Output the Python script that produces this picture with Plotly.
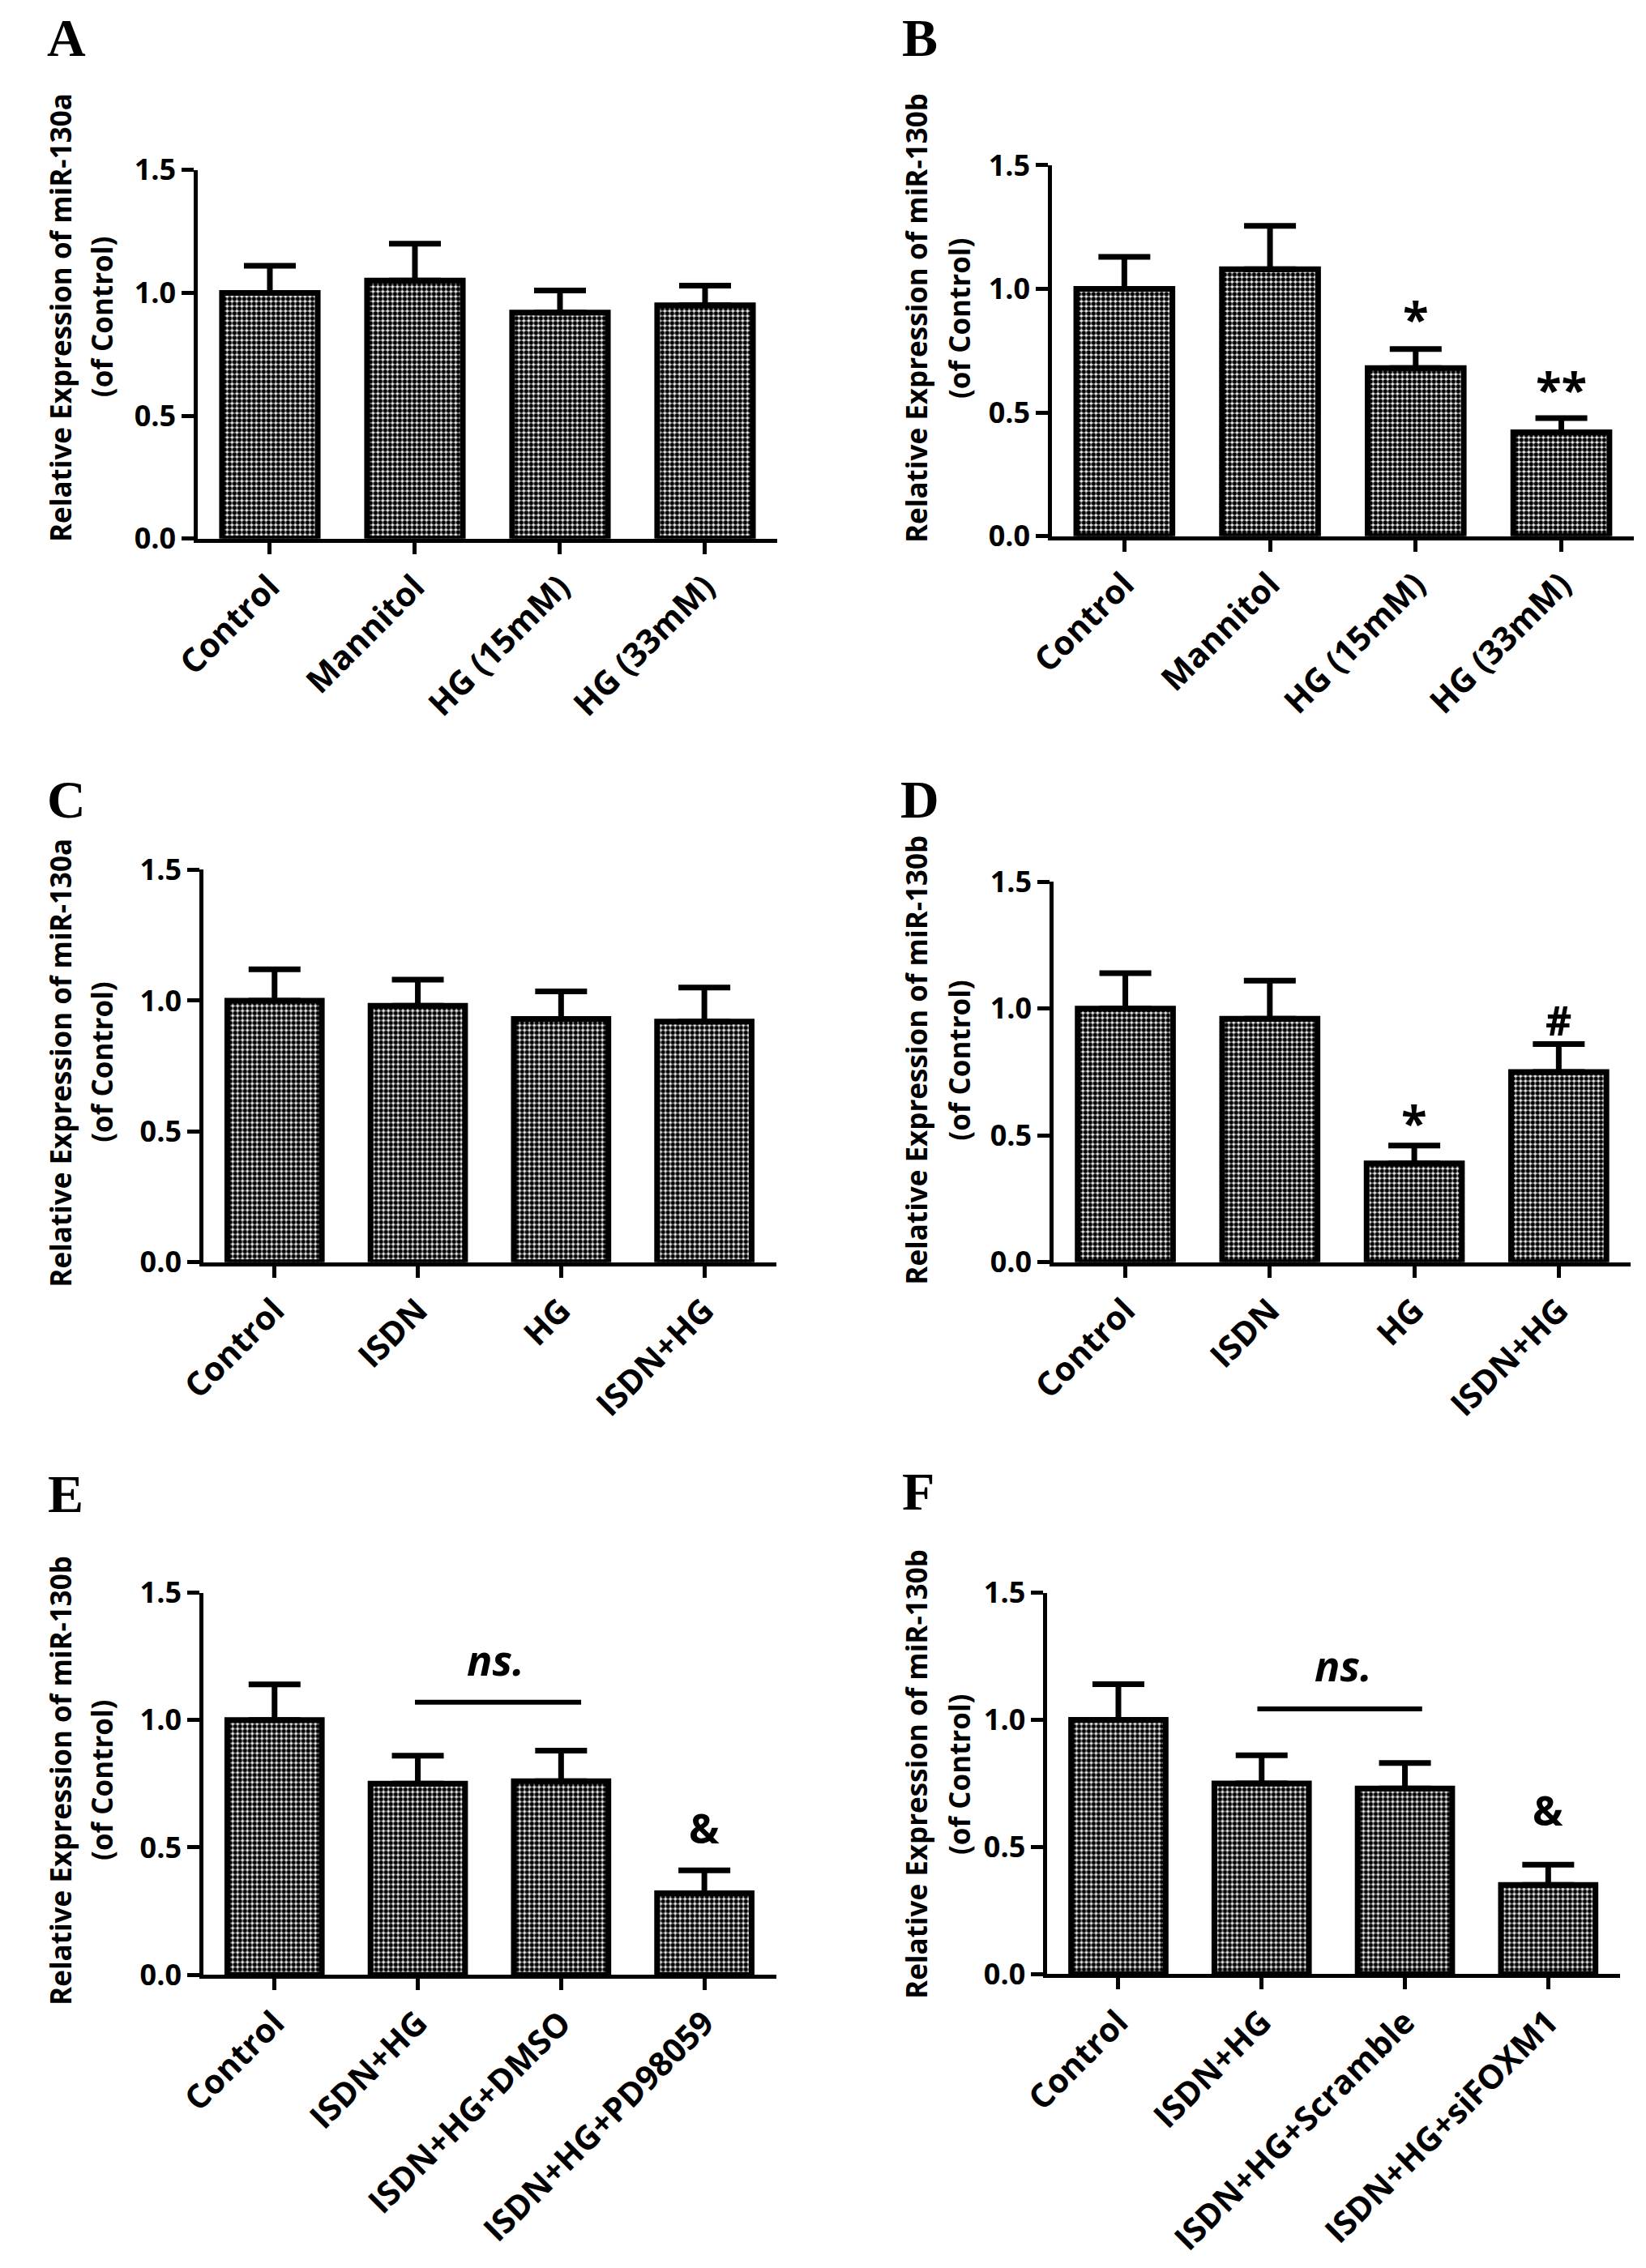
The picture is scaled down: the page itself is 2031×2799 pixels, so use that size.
import plotly.graph_objects as go

W, H = 2031, 2799

# ---------------- data ----------------
cats_A = ["Control", "Mannitol", "HG (15mM)", "HG (33mM)"]
vals_A = [1.00, 1.05, 0.92, 0.95]
errs_A = [0.11, 0.15, 0.09, 0.08]

cats_B = ["Control", "Mannitol", "HG (15mM)", "HG (33mM)"]
vals_B = [1.00, 1.08, 0.68, 0.42]
errs_B = [0.13, 0.175, 0.077, 0.058]

cats_C = ["Control", "ISDN", "HG", "ISDN+HG"]
vals_C = [1.00, 0.98, 0.93, 0.92]
errs_C = [0.12, 0.10, 0.105, 0.13]

cats_D = ["Control", "ISDN", "HG", "ISDN+HG"]
vals_D = [1.00, 0.96, 0.39, 0.75]
errs_D = [0.14, 0.15, 0.07, 0.11]

cats_E = ["Control", "ISDN+HG", "ISDN+HG+DMSO", "ISDN+HG+PD98059"]
vals_E = [1.00, 0.75, 0.76, 0.32]
errs_E = [0.14, 0.11, 0.12, 0.09]

cats_F = ["Control", "ISDN+HG", "ISDN+HG+Scramble", "ISDN+HG+siFOXM1"]
vals_F = [1.00, 0.75, 0.73, 0.35]
errs_F = [0.14, 0.11, 0.10, 0.08]

mirna = {"A": "miR-130a", "B": "miR-130b", "C": "miR-130a",
         "D": "miR-130b", "E": "miR-130b", "F": "miR-130b"}
y_ticks = [0.0, 0.5, 1.0, 1.5]

# significance marks: (category index, text)
sig_B = [(2, "*"), (3, "**")]
sig_D = [(2, "*"), (3, "#")]
sig_E = [(3, "&")]
sig_F = [(3, "&")]
ns_E = (1, 2, "ns.")
ns_F = (1, 2, "ns.")

panel_data = {
    "A": (cats_A, vals_A, errs_A, [], None),
    "B": (cats_B, vals_B, errs_B, sig_B, None),
    "C": (cats_C, vals_C, errs_C, [], None),
    "D": (cats_D, vals_D, errs_D, sig_D, None),
    "E": (cats_E, vals_E, errs_E, sig_E, ns_E),
    "F": (cats_F, vals_F, errs_F, sig_F, ns_F),
}

# ---------------- layout (pixels) ----------------
geom = {
    "A": dict(x0=204, x1=932, ytop=180, ybot=643, t1=31, t2=83, ty=365, lx=13, ly=14),
    "B": dict(x0=1277, x1=2008, ytop=174, ybot=640, t1=1106, t2=1160, ty=366, lx=1087, ly=14),
    "C": dict(x0=211, x1=930, ytop=1059, ybot=1552, t1=31, t2=83, ty=1301, lx=13, ly=970),
    "D": dict(x0=1279, x1=2004, ytop=1074, ybot=1552, t1=1106, t2=1160, ty=1298, lx=1085, ly=970),
    "E": dict(x0=211, x1=930, ytop=1967, ybot=2447, t1=31, t2=83, ty=2203, lx=14, ly=1843),
    "F": dict(x0=1271, x1=1990, ytop=1967, ybot=2446, t1=1106, t2=1160, ty=2195, lx=1087, ly=1840),
}
# gap (data units) from error-bar top to the centre of each mark
sig_gap = {"A": {}, "B": {2: 0.165, 3: 0.157}, "C": {},
           "D": {2: 0.132, 3: 0.093}, "E": {3: 0.165}, "F": {3: 0.214}}
ns_y = {"E": (1.070, 1.221), "F": (1.043, 1.197)}
ns_x = {"E": (0.98, 2.14, 1.54), "F": (0.97, 2.12, 1.57)}

FONT = "Open Sans"
BAR_W = 0.66

fig = go.Figure()
annotations = []
shapes = []


def px(x):
    return x / W


def py(y):
    return 1 - y / H


for i, key in enumerate(["A", "B", "C", "D", "E", "F"]):
    cats, vals, errs, sigs, ns = panel_data[key]
    g = geom[key]
    n = "" if i == 0 else str(i + 1)
    xa, ya = "x" + n, "y" + n
    xpos = list(range(len(cats)))
    fig.add_trace(go.Bar(
        x=xpos, y=vals, width=BAR_W, xaxis=xa, yaxis=ya,
        marker=dict(color="white", line=dict(color="black", width=7),
                    pattern=dict(shape=".", fgcolor="#000000", bgcolor="#f4f4f4",
                                 size=6, solidity=0.62, fillmode="replace")),
        error_y=dict(type="data", array=errs, arrayminus=[0] * len(errs),
                     symmetric=False, thickness=7, width=32, color="black"),
        showlegend=False, hoverinfo="skip",
    ))
    axis_common = dict(showgrid=False, zeroline=False, showline=True,
                       linecolor="black", linewidth=5, ticks="outside",
                       tickcolor="black", tickwidth=5)
    fig.update_layout({
        "xaxis" + n: dict(axis_common, domain=[px(g["x0"]), px(g["x1"])],
                          range=[-0.495, 3.5], anchor=ya, tickvals=xpos,
                          ticktext=cats, tickangle=-45, ticklen=14,
                          tickfont=dict(family=FONT, size=41, color="black", weight="bold")),
        "yaxis" + n: dict(axis_common, domain=[py(g["ybot"]), py(g["ytop"])],
                          range=[0, 1.5], anchor=xa, tickvals=y_ticks,
                          tickformat=".1f", ticklen=15,
                          tickfont=dict(family=FONT, size=36, color="black", weight="bold")),
    })
    # y-axis title (two lines)
    for tx, txt in ((g["t1"], "Relative Expression of " + mirna[key]), (g["t2"], "(of Control)")):
        annotations.append(dict(x=px(tx), y=py(g["ty"]), xref="paper", yref="paper",
                                text=txt, textangle=-90, showarrow=False,
                                xanchor="center", yanchor="middle",
                                font=dict(family=FONT, size=35, color="black", weight="bold")))
    # panel letter
    annotations.append(dict(x=px(g["lx"]), y=py(g["ly"]), xref="paper", yref="paper",
                            text=key, showarrow=False, xanchor="left", yanchor="middle",
                            borderpad=0,
                            font=dict(family="Liberation Serif", size=66, color="black",
                                      weight="bold")))
    # significance marks
    for idx, txt in sigs:
        size = 58 if "*" in txt else 50
        yshift = -12 if "*" in txt else 0
        annotations.append(dict(x=idx, y=vals[idx] + errs[idx] + sig_gap[key][idx],
                                xref=xa, yref=ya, text=txt, showarrow=False,
                                xanchor="center", yanchor="middle", yshift=yshift,
                                font=dict(family=FONT, size=size, color="black", weight="bold")))
    if ns is not None:
        xa0, xa1, xt = ns_x[key]
        yl, yt = ns_y[key]
        shapes.append(dict(type="line", xref=xa, yref=ya, x0=xa0, x1=xa1, y0=yl, y1=yl,
                           line=dict(color="black", width=6)))
        annotations.append(dict(x=xt, y=yt, xref=xa, yref=ya, text="<b><i>ns.</i></b>",
                                showarrow=False, xanchor="center", yanchor="middle",
                                yshift=6,
                                font=dict(family=FONT, size=52, color="black")))

fig.update_layout(width=W, height=H, margin=dict(l=0, r=0, t=0, b=0),
                  paper_bgcolor="white", plot_bgcolor="white",
                  annotations=annotations, shapes=shapes, showlegend=False)

fig.write_html("out.html")
